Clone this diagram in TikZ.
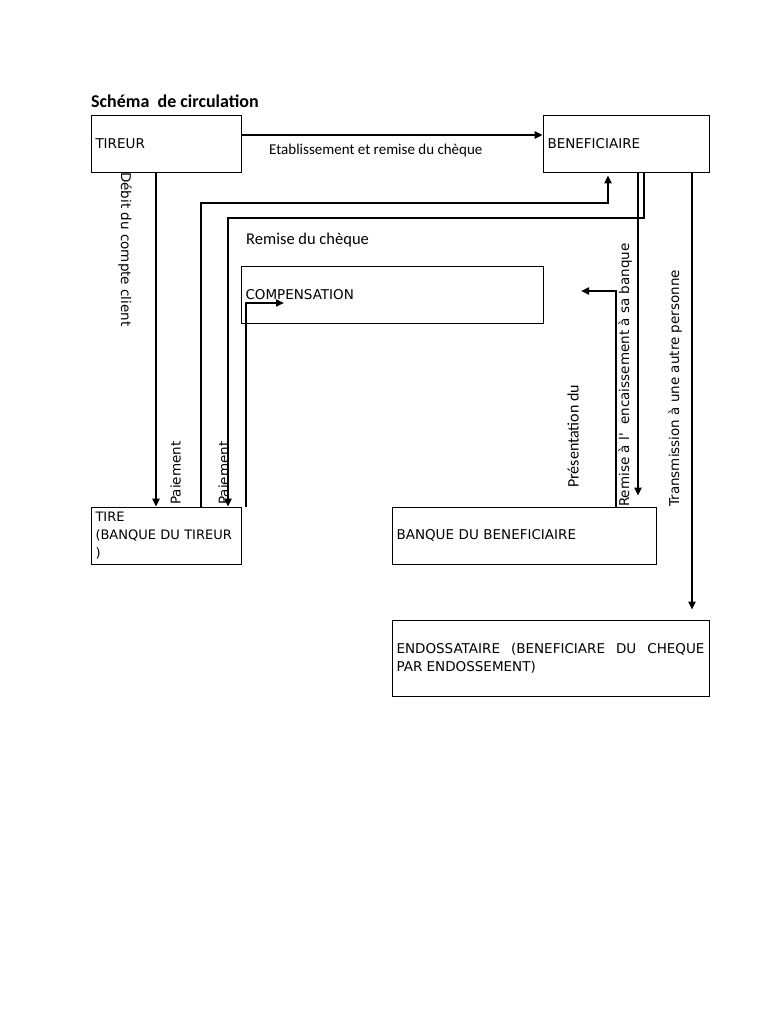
\documentclass[tikz,border=0pt]{standalone}
\usepackage{fontspec}
\setmainfont{DejaVu Sans}
\newfontfamily\tahfont{DejaVu Sans}
\newfontfamily\calfont{Carlito}
\usetikzlibrary{arrows.meta,calc}
\begin{document}
\begin{tikzpicture}[x=1pt,y=-1pt,
  box/.style={draw,line width=0.8pt,inner xsep=4.5pt,inner ysep=0pt,align=left,
    font=\tahfont\fontsize{13.5}{18}\selectfont},
  conn/.style={line width=2.4pt,-{Triangle[length=8pt,width=7pt]}},
  lbl/.style={inner sep=0pt,font=\tahfont\fontsize{13.5}{16}\selectfont},
  clbl/.style={inner sep=0pt,font=\calfont\fontsize{15}{18}\selectfont}]
\useasboundingbox[fill=white] (0,0) rectangle (768,1024);
% title
\node[anchor=base west,inner sep=0pt,font=\calfont\bfseries\fontsize{18}{21}\selectfont] (title) at (91,108) {Schéma\ \ de circulation};
% boxes
\node[box,minimum width=150pt,minimum height=57pt,text width=141pt] (tireur) at (166,143.5) {TIREUR};
\node[box,minimum width=166pt,minimum height=57pt,text width=157pt] (benef) at (626,143.5) {BENEFICIAIRE};
\node[box,minimum width=302pt,minimum height=57pt,text width=293pt] (comp) at (392,294.5) {COMPENSATION};
\node[box,minimum width=150pt,minimum height=57pt,text width=141pt,font=\tahfont\fontsize{13}{18}\selectfont] (tire) at (166,535.5) {TIRE\\\mbox{(BANQUE DU TIREUR}\\)};
\node[box,minimum width=264pt,minimum height=57pt,text width=255pt] (bbanque) at (524,535.5) {BANQUE DU BENEFICIAIRE};
\node[box,minimum width=317pt,minimum height=76pt,text width=308pt,align=justify] (endo) at (550.5,658) {ENDOSSATAIRE (BENEFICIARE DU CHEQUE\linebreak PAR ENDOSSEMENT)};
% free ends
\coordinate (compin) at (284,303);
\coordinate (presin) at (581,291);
% connectors
\draw[conn] (tireur.east |- 0,135) -- (benef.west |- 0,135);
\draw[conn] (tireur.south -| 156,0) -- (tire.north -| 156,0);
\draw[conn,shorten >=3pt] (tire.north -| 201,0) -- (201,203) -- (608,203) -- (benef.south -| 608,0);
\draw[conn] (benef.south -| 644,0) -- (644,218) -- (228,218) -- (tire.north -| 228,0);
\draw[conn] (tire.north -| 246,0) -- (246,303) -- (compin);
\draw[conn] (bbanque.north -| 616,0) -- (616,291) -- (presin);
\draw[conn,shorten >=11pt] (benef.south -| 638,0) -- (bbanque.north -| 638,0);
\draw[conn,shorten >=10pt] (benef.south -| 692,0) -- (endo.north -| 692,0);
% labels
\node[clbl,anchor=base west] (l1) at (269,155) {Etablissement et remise du chèque};
\node[clbl,anchor=base west,font=\calfont\fontsize{16.5}{19}\selectfont] (l2) at (246,244) {Remise du chèque};
\node[lbl,rotate=-90,anchor=north west] (l3) at (132,172) {Débit du compte client};
\node[lbl,rotate=90,anchor=south west] (l4) at (181,505) {Paiement};
\node[lbl,rotate=90,anchor=south west] (l5) at (229,505) {Paiement};
\node[clbl,rotate=90,anchor=south west,font=\calfont\fontsize{16}{19}\selectfont] (l6) at (579,488) {Présentation du};
\node[lbl,rotate=90,anchor=south west] (l7) at (632,507) {Remise à l'\ \ encaissement à sa banque};
\node[lbl,rotate=90,anchor=south west] (l8) at (682,507) {Transmission à une autre personne};
\end{tikzpicture}
\end{document}
